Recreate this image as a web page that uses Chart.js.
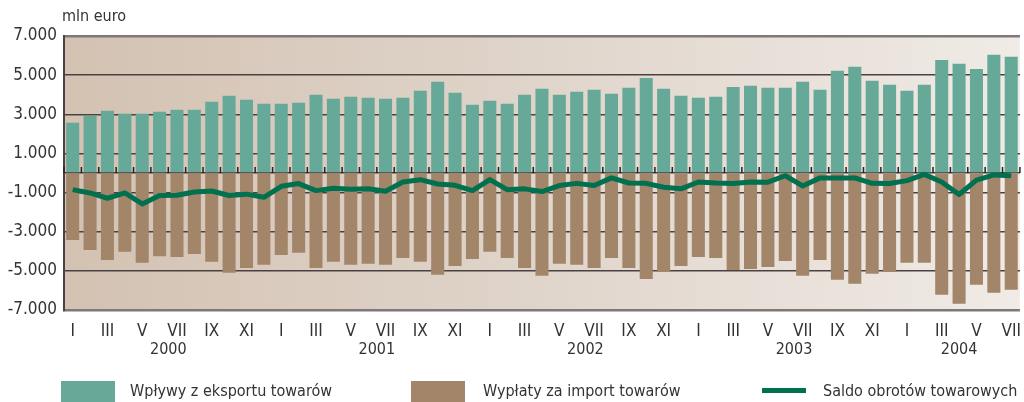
<!DOCTYPE html>
<html>
<head>
<meta charset="utf-8">
<script src="https://cdn.jsdelivr.net/npm/chart.js@4/dist/chart.umd.min.js"></script>
<style>
    html, body { margin: 0; padding: 0; background: #fff; }
    #wrap { position: relative; width: 1024px; height: 402px; overflow: hidden;
        font-family: 'Liberation Sans Narrow', 'DejaVu Sans Condensed', sans-serif; color: #333; }
    #chart { position: absolute; left: 0; top: 0; }
    .unit { position: absolute; left: 62px; top: 6px; font-size: 16px; }
    .lg-box { position: absolute; top: 381px; width: 54px; height: 21px; }
    .lg-line { position: absolute; top: 388px; width: 44px; height: 5px; background: #00704f; }
    .lg-text { position: absolute; top: 381px; font-size: 16px; }
</style>
</head>
<body>
<div id="wrap">
    <canvas id="chart" width="1024" height="402"></canvas>
    <div class="unit">mln euro</div>
    <div class="lg-box" style="left:61px;background:#67a999"></div>
    <div class="lg-text" style="left:130px">Wpływy z eksportu towarów</div>
    <div class="lg-box" style="left:411px;background:#a3856a"></div>
    <div class="lg-text" style="left:483px">Wypłaty za import towarów</div>
    <div class="lg-line" style="left:762px"></div>
    <div class="lg-text" style="left:823px">Saldo obrotów towarowych</div>
</div>
<script>
const romans = ['I', 'II', 'III', 'IV', 'V', 'VI', 'VII', 'VIII', 'IX', 'X', 'XI', 'XII'];
const years = ['2000', '2001', '2002', '2003', '2004'];
const monthsIn2004 = 7;

const months = [];
const monthYear = [];
years.forEach((y) => {
    const n = y === '2004' ? monthsIn2004 : 12;
    for (let m = 0; m < n; m++) { months.push(romans[m]); monthYear.push(y); }
});

// mln euro
const exportsVals = [
    2570, 2930, 3180, 3030, 3030, 3130, 3230, 3230, 3640, 3950, 3740, 3540,
    3540, 3590, 4000, 3790, 3890, 3840, 3790, 3840, 4200, 4660, 4100, 3490,
    3690, 3540, 4000, 4300, 4000, 4150, 4250, 4050, 4350, 4860, 4300, 3950,
    3840, 3890, 4400, 4460, 4350, 4350, 4660, 4250, 5220, 5430, 4710, 4510,
    4200, 4510, 5780, 5580, 5320, 6040, 5940
];
const importsVals = [
    -3420, -3930, -4440, -4030, -4590, -4250, -4290, -4140, -4540, -5100, -4850, -4690,
    -4190, -4080, -4850, -4540, -4690, -4640, -4690, -4340, -4540, -5200, -4750, -4390,
    -4030, -4340, -4850, -5250, -4640, -4690, -4850, -4340, -4850, -5410, -5050, -4750,
    -4290, -4340, -4950, -4900, -4800, -4490, -5250, -4440, -5460, -5660, -5150, -5050,
    -4590, -4590, -6220, -6680, -5710, -6120, -5970
];
const saldoVals = [
    -850, -1020, -1290, -1020, -1580, -1150, -1140, -970, -920, -1150, -1080, -1240,
    -680, -540, -900, -780, -830, -800, -930, -460, -340, -560, -630, -900,
    -340, -850, -810, -950, -640, -530, -640, -250, -510, -530, -730, -810,
    -460, -510, -540, -460, -470, -140, -660, -250, -250, -250, -530, -540,
    -390, -70, -460, -1100, -360, -100, -140
];
const yTicks = [7000, 5000, 3000, 1000, 0, -1000, -3000, -5000, -7000];

const fontFamily = "'Liberation Sans Narrow', 'DejaVu Sans Condensed', sans-serif";
const fmt = (v) => (v < 0 ? '-' : '') + Math.abs(v).toLocaleString('de-DE');

const backdrop = {
    id: 'backdrop',
    beforeDraw(chart) {
        const { ctx, chartArea: a } = chart;
        const g = ctx.createLinearGradient(a.left, 0, a.right, 0);
        g.addColorStop(0, '#d3c2b2');
        g.addColorStop(0.5, '#e0d5cb');
        g.addColorStop(1, '#f0ebe6');
        ctx.save();
        ctx.fillStyle = g;
        ctx.fillRect(a.left, a.top, a.right - a.left, a.bottom - a.top);
        ctx.restore();
    },
};

const extras = {
    id: 'extras',
    afterDatasetsDraw(chart) {
        // little ticks on the zero line between months
        const { ctx } = chart;
        const x = chart.scales.x;
        const y0 = chart.scales.y.getPixelForValue(0);
        const step = x.getPixelForValue(1) - x.getPixelForValue(0);
        ctx.save();
        ctx.strokeStyle = '#2a2222';
        ctx.lineWidth = 1.5;
        ctx.beginPath();
        for (let i = 0; i <= months.length; i++) {
            const px = x.getPixelForValue(i) - step / 2;
            ctx.moveTo(px, y0 - 6);
            ctx.lineTo(px, y0);
        }
        ctx.stroke();
        ctx.restore();
    },
    afterDraw(chart) {
        const { ctx } = chart;
        const x = chart.scales.x;
        ctx.save();
        ctx.font = `16px ${fontFamily}`;
        ctx.fillStyle = '#333';
        ctx.textAlign = 'center';
        ctx.textBaseline = 'middle';
        years.forEach((y) => {
            const first = monthYear.indexOf(y);
            const last = monthYear.lastIndexOf(y);
            const cx = (x.getPixelForValue(first) + x.getPixelForValue(last)) / 2;
            ctx.fillText(y, cx, 350);
        });
        ctx.restore();
    },
};

new Chart(document.getElementById('chart'), {
    data: {
        labels: months,
        datasets: [
            { type: 'line', label: 'Saldo obrotów towarowych', data: saldoVals, borderColor: '#00704f',
              borderWidth: 5, pointRadius: 0, tension: 0, borderJoinStyle: 'round', order: 0 },
            { type: 'bar', label: 'Wpływy z eksportu towarów', data: exportsVals, backgroundColor: '#67a999',
              grouped: false, categoryPercentage: 1, barPercentage: 0.75, order: 1 },
            { type: 'bar', label: 'Wypłaty za import towarów', data: importsVals, backgroundColor: '#a3856a',
              grouped: false, categoryPercentage: 1, barPercentage: 0.75, order: 1 },
        ],
    },
    options: {
        responsive: false,
        animation: false,
        layout: { padding: { top: 36, right: 4, left: 0, bottom: 0 } },
        plugins: { legend: { display: false }, tooltip: { enabled: false } },
        scales: {
            x: {
                offset: true,
                grid: { display: false },
                border: { display: false },
                ticks: {
                    autoSkip: false, maxRotation: 0, padding: 3, color: '#333',
                    font: { family: fontFamily, size: 17 },
                    callback: (v, i) => (i % 2 === 0 ? months[i] : ''),
                },
                afterFit: (s) => { s.height = 92; },
            },
            y: {
                min: -7000,
                max: 7000,
                afterBuildTicks: (s) => { s.ticks = yTicks.map((v) => ({ value: v })); },
                afterFit: (s) => { s.width = 64; },
                grid: {
                    drawTicks: false,
                    color: (c) => (Math.abs(c.tick.value) === 7000 ? '#807878' : '#4a4242'),
                    lineWidth: (c) => (Math.abs(c.tick.value) === 7000 ? 2.5 : 1.5),
                },
                border: { display: true, color: '#4a4242', width: 2 },
                ticks: {
                    padding: 7, color: '#333',
                    font: { family: fontFamily, size: 17 },
                    callback: (v) => (v === 0 ? '' : fmt(v)),
                },
            },
        },
    },
    plugins: [backdrop, extras],
});
</script>
</body>
</html>
